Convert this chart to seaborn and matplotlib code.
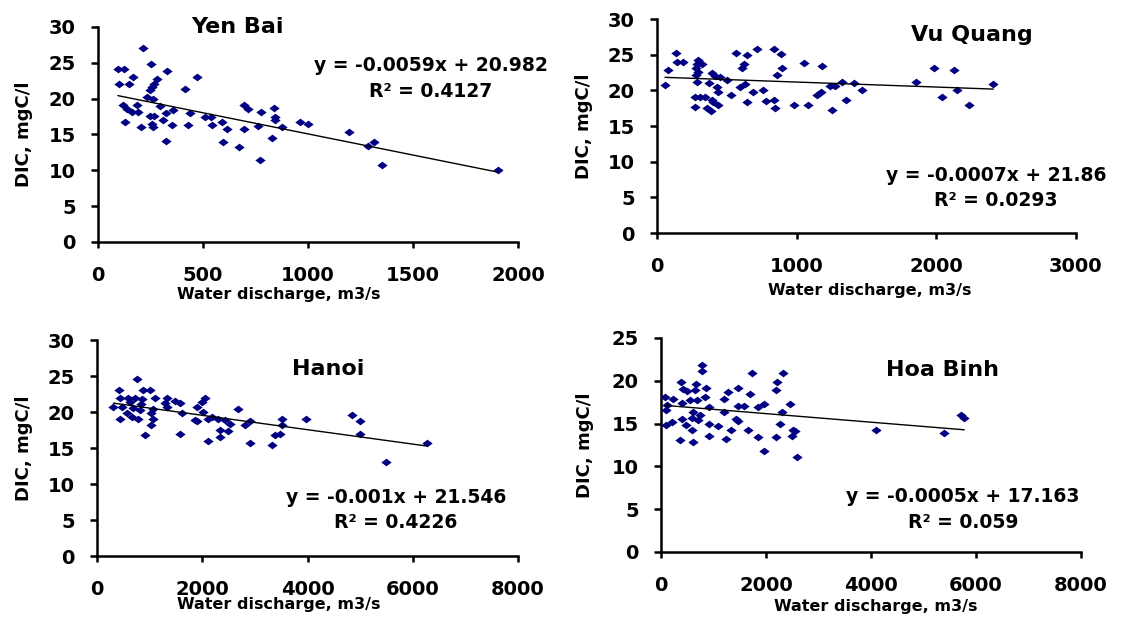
import matplotlib
matplotlib.use("Agg")
import pandas as pd
import matplotlib.pyplot as plt
import seaborn as sns

# ==========================
# Data
# ==========================
stations = ["Yen Bai", "Vu Quang", "Hanoi", "Hoa Binh"]

yenbai_q = [216, 95, 125, 252, 330, 167, 101, 149, 281, 268, 257, 248, 470, 416, 235,
            263, 121, 184, 137, 160, 192, 295, 359, 324, 438, 248, 268, 308, 127, 205,
            256, 263, 354, 430, 325, 510, 537, 541, 592, 613, 597, 671, 697, 716, 697,
            760, 778, 771, 840, 845, 845, 875, 827, 962, 998, 1195, 1284, 1314, 1354, 1903]
yenbai_dic = [27.1, 24.1, 24.1, 24.9, 23.8, 23.0, 22.0, 22.0, 22.7, 22.1, 21.6, 21.2, 23.0, 21.3, 20.2,
              19.9, 19.1, 19.1, 18.6, 18.2, 18.2, 19.0, 18.4, 18.0, 18.0, 17.6, 17.6, 17.0, 16.8, 16.0,
              16.5, 16.0, 16.3, 16.3, 14.1, 17.4, 17.4, 16.3, 16.7, 15.7, 13.9, 13.2, 19.1, 18.5, 15.7,
              16.2, 18.2, 11.5, 18.7, 17.5, 17.0, 16.0, 14.5, 16.8, 16.5, 15.3, 13.4, 14.0, 10.8, 10.0]

vuquang_q = [57, 76, 134, 141, 188, 291, 284, 320, 277, 296, 277, 284, 392, 415, 451,
             499, 375, 427, 434, 272, 308, 344, 392, 403, 439, 272, 356, 387, 528, 566,
             642, 718, 840, 886, 625, 606, 895, 862, 594, 630, 690, 757, 642, 780, 840,
             845, 983, 1079, 1053, 1179, 1143, 1172, 1239, 1274, 1327, 1411, 1466, 1353, 1255, 1852,
             1986, 2129, 2043, 2150, 2236, 2408]
vuquang_dic = [20.7, 22.9, 25.3, 24.0, 24.0, 24.3, 23.7, 23.7, 23.1, 22.6, 22.2, 21.2, 22.4, 22.0, 21.9,
               21.5, 21.0, 20.5, 19.7, 19.0, 19.1, 19.0, 18.7, 18.3, 18.0, 17.6, 17.5, 17.1, 19.4, 25.2,
               25.0, 25.8, 25.8, 25.1, 23.7, 23.1, 23.1, 22.2, 20.5, 20.9, 19.8, 20.0, 18.3, 18.5, 18.6,
               17.5, 18.0, 18.0, 23.9, 23.4, 19.3, 19.8, 20.6, 20.6, 21.2, 21.0, 20.0, 18.7, 17.2, 21.2,
               23.2, 22.9, 19.0, 20.0, 18.0, 20.9]

hanoi_q = [754, 424, 880, 1007, 437, 595, 722, 849, 1102, 1324, 627, 830, 1292, 1482, 1577,
           2052, 1989, 310, 469, 690, 817, 1070, 1894, 1324, 564, 1026, 1609, 2020, 2673, 437,
           659, 785, 1070, 1862, 1894, 2115, 2179, 2305, 2432, 2527, 2812, 2907, 3509, 3509, 3971,
           4839, 4997, 4997, 1026, 912, 1577, 2337, 2495, 2337, 2115, 3382, 3477, 3319, 2907, 5491,
           6264]
hanoi_dic = [24.6, 23.0, 23.0, 23.0, 22.0, 22.0, 22.0, 21.8, 22.0, 22.0, 21.4, 21.1, 21.2, 21.5, 21.2,
             22.0, 21.4, 20.7, 20.7, 20.6, 20.3, 20.4, 20.7, 20.7, 19.8, 19.8, 19.9, 20.0, 20.4, 19.1,
             19.3, 19.0, 19.1, 18.9, 18.7, 19.1, 19.3, 19.0, 18.9, 18.3, 18.2, 18.7, 19.0, 18.2, 19.0,
             19.6, 18.7, 17.0, 18.2, 16.8, 17.0, 17.5, 17.3, 16.5, 16.0, 16.8, 17.0, 15.4, 15.7, 13.0,
             15.7]

hoabinh_q = [775, 775, 1740, 2330, 375, 667, 2216, 425, 489, 648, 857, 1473, 1283, 1695, 2191,
             76, 235, 838, 1200, 108, 394, 552, 679, 921, 1473, 1587, 1854, 1968, 2457, 95,
             616, 743, 1200, 2299, 394, 584, 711, 1429, 1461, 203, 95, 476, 921, 1092, 2267,
             584, 1334, 1663, 2521, 2553, 921, 1238, 1842, 2191, 2502, 362, 616, 1968, 2585, 4096,
             5391, 5715, 5778]
hoabinh_dic = [21.9, 21.1, 20.9, 20.9, 19.8, 19.6, 19.8, 19.0, 18.8, 18.9, 19.2, 19.2, 18.7, 18.5, 18.9,
               18.1, 17.9, 18.1, 17.9, 17.2, 17.4, 17.7, 17.7, 16.9, 17.1, 17.0, 16.9, 17.3, 17.3, 16.6,
               16.3, 16.0, 16.3, 16.4, 15.5, 15.6, 15.4, 15.5, 15.3, 15.2, 14.8, 14.8, 14.9, 14.7, 15.0,
               14.3, 14.3, 14.3, 14.2, 14.1, 13.5, 13.2, 13.4, 13.4, 13.5, 13.1, 12.9, 11.8, 11.1, 14.3,
               13.9, 16.0, 15.7]

discharge = [yenbai_q, vuquang_q, hanoi_q, hoabinh_q]
dic = [yenbai_dic, vuquang_dic, hanoi_dic, hoabinh_dic]

# linear trend lines (as printed on the chart)
slopes = [-0.0059, -0.0007, -0.001, -0.0005]
intercepts = [20.982, 21.86, 21.546, 17.163]
eq_labels = ["y = -0.0059x + 20.982", "y = -0.0007x + 21.86",
             "y = -0.001x + 21.546", "y = -0.0005x + 17.163"]
r2_labels = ["R² = 0.4127", "R² = 0.0293", "R² = 0.4226", "R² = 0.059"]

x_max = [2000, 3000, 8000, 8000]
x_step = [500, 1000, 2000, 2000]
y_max = [30, 30, 30, 25]

# ==========================
# Layout
# ==========================
axes_rects = [(0.0873, 0.6116, 0.3743, 0.3451),
              (0.5856, 0.6260, 0.3734, 0.3435),
              (0.0865, 0.1075, 0.3752, 0.3467),
              (0.5891, 0.1140, 0.3743, 0.3435)]
title_pos = [(0.333, 1.0), (0.752, 0.925), (0.549, 0.866), (0.671, 0.850)]
eq_pos = [(0.793, 0.819, 0.698), (0.809, 0.271, 0.150),
          (0.710, 0.269, 0.157), (0.719, 0.257, 0.140)]
ylabel_x = [-0.155, -0.153, -0.152, -0.160]
xlabel_pos = [(0.431, -0.209), (0.508, -0.234), (0.432, -0.190), (0.512, -0.220)]

sns.set_theme(style="white")
plt.rcParams["font.family"] = ["DejaVu Sans"]
plt.rcParams["font.weight"] = "bold"

fig = plt.figure(figsize=(11.22, 6.23), dpi=100)

diamond = [(-1, 0), (0, 0.75), (1, 0), (0, -0.75)]

for i, name in enumerate(stations):
    ax = fig.add_axes(axes_rects[i])
    df = pd.DataFrame({"q": discharge[i], "dic": dic[i]})

    sns.scatterplot(data=df, x="q", y="dic", ax=ax, marker=diamond, s=55,
                    color="#000080", edgecolor="#000080", linewidth=0, zorder=3)

    # trend line over data range
    q_lo, q_hi = min(discharge[i]), max(discharge[i])
    line = pd.DataFrame({"q": [q_lo, q_hi],
                         "dic": [slopes[i] * q_lo + intercepts[i],
                                 slopes[i] * q_hi + intercepts[i]]})
    sns.lineplot(data=line, x="q", y="dic", ax=ax, color="black", linewidth=1.0, zorder=4)

    ax.set_xlim(0, x_max[i])
    ax.set_ylim(0, y_max[i])
    ax.set_xticks(range(0, x_max[i] + 1, x_step[i]))
    ax.set_yticks(range(0, y_max[i] + 1, 5))

    for side in ["top", "right"]:
        ax.spines[side].set_visible(False)
    for side in ["left", "bottom"]:
        ax.spines[side].set_color("black")
        ax.spines[side].set_linewidth(1.8)
    ax.tick_params(axis="x", direction="out", length=4, width=1.8, pad=13,
                   labelsize=14, colors="black", bottom=True)
    ax.tick_params(axis="y", direction="out", length=5, width=1.8, pad=11,
                   labelsize=14, colors="black", left=True)
    for lab in ax.get_xticklabels() + ax.get_yticklabels():
        lab.set_fontweight("bold")

    ax.set_xlabel("Water discharge, m3/s", fontsize=11.5, fontweight="bold", color="black")
    ax.set_ylabel("DIC, mgC/l", fontsize=13, fontweight="bold", color="black")
    ax.xaxis.set_label_coords(*xlabel_pos[i])
    ax.yaxis.set_label_coords(ylabel_x[i], 0.5)

    ax.text(title_pos[i][0], title_pos[i][1], name, transform=ax.transAxes,
            ha="center", va="center", fontsize=16, fontweight="bold", color="black")
    ax.text(eq_pos[i][0], eq_pos[i][1], eq_labels[i], transform=ax.transAxes,
            ha="center", va="center", fontsize=13.5, fontweight="bold", color="black")
    ax.text(eq_pos[i][0], eq_pos[i][2], r2_labels[i], transform=ax.transAxes,
            ha="center", va="center", fontsize=13.5, fontweight="bold", color="black")

plt.savefig("out.png", dpi=100)
